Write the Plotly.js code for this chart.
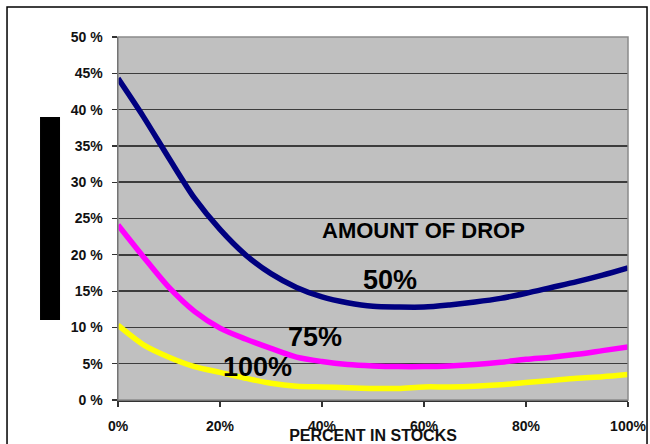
<!DOCTYPE html>
<html>
<head>
<meta charset="utf-8">
<script src="https://cdn.plot.ly/plotly-3.0.1.min.js"></script>
<style>html,body{margin:0;padding:0;background:#fff;}#chart{width:650px;height:444px;}</style>
</head>
<body>
<div id="chart"></div>
<script>
// Percent in stocks (x)
const percentInStocks = [0,5,10,15,20,25,30,35,40,45,50,55,60,65,70,75,80,85,90,95,100];
// Amount of drop series (values in %)
const drop50  = [44.3,39.0,33.3,27.8,23.5,20.0,17.4,15.5,14.2,13.4,12.9,12.8,12.8,13.1,13.5,14.0,14.7,15.5,16.3,17.2,18.2];
const drop75  = [24.1,19.7,15.5,12.2,9.9,8.4,7.1,5.9,5.3,4.9,4.7,4.6,4.6,4.7,4.9,5.2,5.6,5.9,6.3,6.8,7.3];
const drop100 = [10.3,7.6,5.9,4.6,3.8,3.0,2.3,1.9,1.8,1.7,1.6,1.6,1.8,1.8,1.9,2.1,2.4,2.7,3.0,3.2,3.5];

const seriesNames = ["50%","75%","100%"];
const seriesColors = ["#000080","#FF00FF","#FFFF00"];

const yTickVals = [0,5,10,15,20,25,30,35,40,45,50];
const yTickText = ["0 %","5%","10 %","15%","20 %","25%","30 %","35%","40 %","45%","50 %"];
const xTickVals = [0,20,40,60,80,100];
const xTickText = ["0%","20%","40%","60%","80%","100%"];

const labelPos = {
  title: {x: 59.9, y: 23.3, text: "AMOUNT OF DROP"},
  s50:   {x: 53.3, y: 16.5},
  s75:   {x: 38.7, y: 8.7},
  s100:  {x: 27.4, y: 4.5}
};

const FONT = "Liberation Sans, Arial, sans-serif";
const seriesData = [drop50, drop75, drop100];

const traces = seriesData.map((vals, i) => ({
  x: percentInStocks,
  y: vals,
  type: "scatter",
  mode: "lines",
  name: seriesNames[i],
  line: {color: seriesColors[i], width: 5.5, shape: "spline", smoothing: 0.8},
  hoverinfo: "skip"
}));

const layout = {
  width: 650,
  height: 444,
  margin: {l: 118, r: 22, t: 37, b: 44, pad: 0},
  paper_bgcolor: "#ffffff",
  plot_bgcolor: "#C0C0C0",
  showlegend: false,
  font: {family: FONT, color: "#000", size: 13},
  xaxis: {
    range: [0, 100],
    tickvals: xTickVals,
    ticktext: xTickText,
    showgrid: false,
    zeroline: false,
    showline: true,
    linecolor: "#333",
    linewidth: 1.5,
    ticks: "outside",
    ticklen: 5,
    tickwidth: 1.2,
    tickcolor: "#333",
    ticklabelstandoff: 8,
    tickfont: {family: FONT, size: 14, color: "#111", weight: "bold"},
    title: {text: "<b>PERCENT IN STOCKS</b>", font: {family: FONT, size: 16, color: "#111"}, standoff: 0},
    fixedrange: true
  },
  yaxis: {
    range: [0, 50],
    tickvals: yTickVals,
    ticktext: yTickText,
    showgrid: true,
    gridcolor: "#3c3c3c",
    gridwidth: 1.5,
    zeroline: false,
    showline: true,
    linecolor: "#333",
    linewidth: 1.5,
    ticks: "outside",
    ticklen: 5,
    tickwidth: 1.2,
    tickcolor: "#333",
    ticklabelstandoff: 6,
    tickfont: {family: FONT, size: 14, color: "#111", weight: "bold"},
    fixedrange: true
  },
  shapes: [
    {type: "rect", xref: "paper", yref: "paper", x0: 0, x1: 1, y0: 0, y1: 1,
     line: {color: "#8a8a8a", width: 1.5}, layer: "above"},
    {type: "rect", xref: "paper", yref: "paper", x0: -0.2176, x1: 1.0373, y0: -0.15, y1: 1.0826,
     line: {color: "#000", width: 1.5}},
    {type: "rect", xref: "paper", yref: "paper", x0: -0.1529, x1: -0.1137, y0: 0.2204, y1: 0.7796,
     fillcolor: "#000", line: {width: 0}}
  ],
  annotations: [
    {x: labelPos.title.x, y: labelPos.title.y, xref: "x", yref: "y", text: "<b>" + labelPos.title.text + "</b>",
     showarrow: false, font: {family: FONT, size: 22, color: "#000"}, xanchor: "center", yanchor: "middle"},
    {x: labelPos.s50.x, y: labelPos.s50.y, xref: "x", yref: "y", text: "<b>" + seriesNames[0] + "</b>",
     showarrow: false, font: {family: FONT, size: 27, color: "#000"}, xanchor: "center", yanchor: "middle"},
    {x: labelPos.s75.x, y: labelPos.s75.y, xref: "x", yref: "y", text: "<b>" + seriesNames[1] + "</b>",
     showarrow: false, font: {family: FONT, size: 27, color: "#000"}, xanchor: "center", yanchor: "middle"},
    {x: labelPos.s100.x, y: labelPos.s100.y, xref: "x", yref: "y", text: "<b>" + seriesNames[2] + "</b>",
     showarrow: false, font: {family: FONT, size: 27, color: "#000"}, xanchor: "center", yanchor: "middle"}
  ]
};

Plotly.newPlot("chart", traces, layout, {displayModeBar: false, staticPlot: true});
</script>
</body>
</html>
